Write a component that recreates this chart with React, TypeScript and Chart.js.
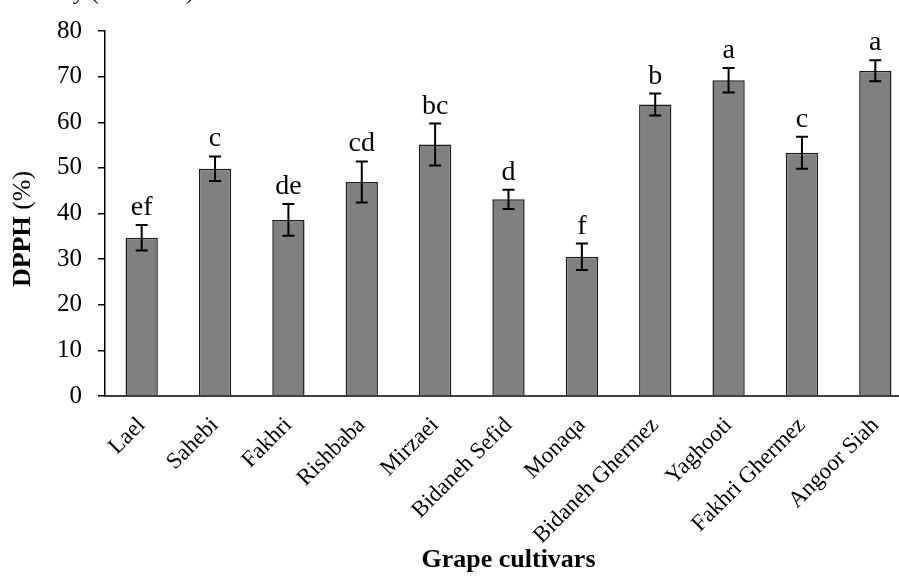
import React, { useEffect, useRef } from "react";
import { Chart, registerables } from "chart.js";

Chart.register(...registerables);

const categories = [
  "Lael",
  "Sahebi",
  "Fakhri",
  "Rishbaba",
  "Mirzaei",
  "Bidaneh Sefid",
  "Monaqa",
  "Bidaneh Ghermez",
  "Yaghooti",
  "Fakhri Ghermez",
  "Angoor Siah",
];
const dpphValues = [34.7, 49.8, 38.6, 46.9, 55.1, 43.1, 30.5, 63.9, 69.2, 53.3, 71.3];
const dpphErrors = [2.8, 2.7, 3.5, 4.5, 4.6, 2.1, 2.9, 2.4, 2.7, 3.5, 2.3];
const groupLetters = ["ef", "c", "de", "cd", "bc", "d", "f", "b", "a", "c", "a"];
const yTicks = { min: 0, max: 80, step: 10 };

const SERIF = "'Liberation Serif', 'Times New Roman', serif";

const overlayPlugin = {
  id: "overlay",
  afterDatasetsDraw(chart: any) {
    const ctx = chart.ctx;
    const y = chart.scales.y;
    const meta = chart.getDatasetMeta(0);
    ctx.save();
    ctx.strokeStyle = "#000";
    ctx.lineWidth = 2;
    meta.data.forEach((bar: any, i: number) => {
      const x = bar.x;
      const top = y.getPixelForValue(dpphValues[i] + dpphErrors[i]);
      const bot = y.getPixelForValue(dpphValues[i] - dpphErrors[i]);
      ctx.beginPath();
      ctx.moveTo(x, top);
      ctx.lineTo(x, bot);
      ctx.moveTo(x - 6, top);
      ctx.lineTo(x + 6, top);
      ctx.moveTo(x - 6, bot);
      ctx.lineTo(x + 6, bot);
      ctx.stroke();
      ctx.fillStyle = "#000";
      ctx.font = `28px ${SERIF}`;
      ctx.textAlign = "center";
      ctx.textBaseline = "alphabetic";
      ctx.fillText(groupLetters[i], x, top - 10);
    });
    ctx.restore();
  },
  afterDraw(chart: any) {
    const ctx = chart.ctx;
    ctx.save();
    const boldPart = "DPPH";
    const normalPart = " (%)";
    ctx.translate(23, 229);
    ctx.rotate(-Math.PI / 2);
    ctx.fillStyle = "#000";
    ctx.textBaseline = "middle";
    ctx.font = `bold 26px ${SERIF}`;
    const wb = ctx.measureText(boldPart).width;
    ctx.font = `26px ${SERIF}`;
    const wn = ctx.measureText(normalPart).width;
    const start = -(wb + wn) / 2;
    ctx.textAlign = "left";
    ctx.font = `bold 26px ${SERIF}`;
    ctx.fillText(boldPart, start, 0);
    ctx.font = `26px ${SERIF}`;
    ctx.fillText(normalPart, start + wb, 0);
    ctx.restore();
    ctx.save();
    ctx.fillStyle = "#000";
    ctx.font = `24px ${SERIF}`;
    ctx.textAlign = "right";
    ctx.textBaseline = "alphabetic";
    ctx.fillText("Antioxidant activity (DPPH %)", 194, -1);
    ctx.restore();
  },
};

export default function App() {
  const canvasRef = useRef<HTMLCanvasElement | null>(null);

  useEffect(() => {
    const canvas = canvasRef.current;
    if (!canvas) return;
    const chart = new Chart(canvas, {
      type: "bar",
      data: {
        labels: categories,
        datasets: [
          {
            data: dpphValues,
            backgroundColor: "#808080",
            borderColor: "#1a1a1a",
            borderWidth: 1.5,
            barPercentage: 0.44,
            categoryPercentage: 1,
          },
        ],
      },
      options: {
        responsive: false,
        animation: false,
        devicePixelRatio: 1,
        layout: { padding: { top: 24, left: 0, right: 0, bottom: 0 } },
        plugins: {
          legend: { display: false },
          tooltip: { enabled: false },
          title: { display: false },
        },
        scales: {
          x: {
            type: "category",
            offset: true,
            grid: { display: false, drawTicks: false },
            border: { display: true, color: "#404040", width: 2 },
            ticks: {
              color: "#000",
              font: { family: SERIF, size: 23 },
              minRotation: 45,
              maxRotation: 45,
              autoSkip: false,
              padding: 16,
            },
            title: {
              display: true,
              text: "Grape cultivars",
              color: "#000",
              font: { family: SERIF, size: 26, weight: "bold" },
              padding: { top: 0, bottom: 0 },
            },
            afterFit(scale: any) {
              scale.height = 180;
            },
          },
          y: {
            min: yTicks.min,
            max: yTicks.max,
            grid: {
              display: true,
              drawOnChartArea: false,
              drawTicks: true,
              tickLength: 7,
              color: "#000",
              lineWidth: 1.5,
            },
            border: { display: true, color: "#000", width: 1.5 },
            ticks: {
              stepSize: yTicks.step,
              color: "#000",
              font: { family: SERIF, size: 25 },
              padding: 16,
            },
            afterFit(scale: any) {
              scale.width = 105;
            },
          },
        },
      },
      plugins: [overlayPlugin],
    } as any);
    return () => chart.destroy();
  }, []);

  return (
    <div
      style={{
        position: "fixed",
        left: 0,
        top: 0,
        width: 899,
        height: 576,
        overflow: "hidden",
        background: "#fff",
      }}
    >
      <canvas ref={canvasRef} width={912} height={576} style={{ width: 912, height: 576, display: "block" }} />
    </div>
  );
}
